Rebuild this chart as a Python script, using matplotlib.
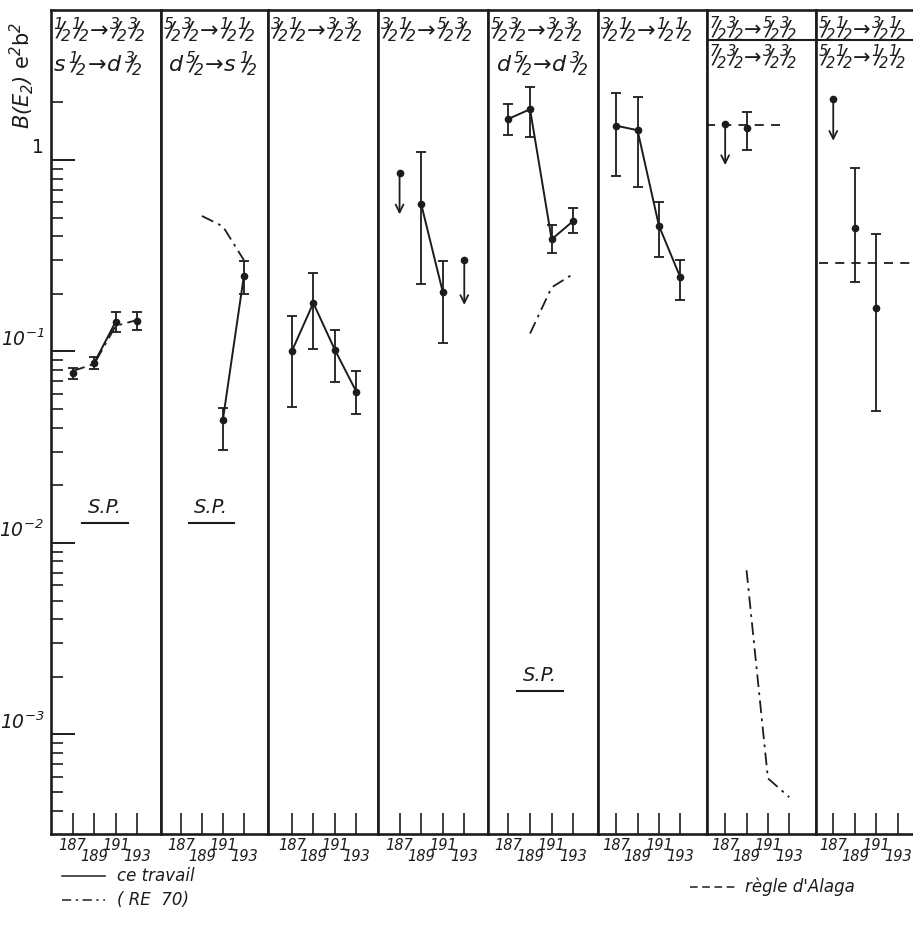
import matplotlib
matplotlib.use("Agg")
import matplotlib.pyplot as plt
from matplotlib.lines import Line2D
from matplotlib.ticker import FixedLocator, NullFormatter

plt.rcParams['font.family'] = ['DejaVu Sans']
plt.rcParams['mathtext.fontset'] = 'custom'
plt.rcParams['mathtext.rm'] = 'DejaVu Sans:italic'
plt.rcParams['mathtext.it'] = 'DejaVu Sans:italic'
plt.rcParams['mathtext.bf'] = 'DejaVu Sans:italic:bold'

# ---------------- data ----------------
mass_ticks = [187, 189, 191, 193]
mass_labels = ['187', '189', '191', '193']

header_top = ["1/2 1/2 → 3/2 3/2", "5/2 3/2 → 1/2 1/2", "3/2 1/2 → 3/2 3/2",
              "3/2 1/2 → 5/2 3/2", "5/2 3/2 → 3/2 3/2", "3/2 1/2 → 1/2 1/2",
              "7/2 3/2 → 5/2 3/2", "5/2 1/2 → 3/2 1/2"]
header_bottom = ["s 1/2 → d 3/2", "d5/2 → s 1/2", "", "", "d5/2 → d 3/2", "",
                 "7/2 3/2 → 3/2 3/2", "5/2 1/2 → 1/2 1/2"]
header_ratio = [False, False, False, False, False, False, True, True]

# experimental values (ce travail)
exp_mass = [[187, 189, 191, 193], [191, 193], [187, 189, 191, 193], [189, 191],
            [187, 189, 191, 193], [187, 189, 191, 193], [189], [189, 191]]
exp_val = [[0.077, 0.087, 0.143, 0.144], [0.044, 0.248], [0.100, 0.179, 0.102, 0.0615],
           [0.59, 0.205], [1.64, 1.84, 0.385, 0.48], [1.51, 1.43, 0.454, 0.244],
           [1.46], [0.44, 0.168]]
exp_lo = [[0.072, 0.081, 0.126, 0.129], [0.0306, 0.20], [0.051, 0.103, 0.069, 0.047],
          [0.225, 0.111], [1.35, 1.32, 0.326, 0.415], [0.82, 0.726, 0.311, 0.186],
          [1.13], [0.23, 0.049]]
exp_hi = [[0.082, 0.094, 0.161, 0.161], [0.0507, 0.298], [0.153, 0.257, 0.130, 0.079],
          [1.10, 0.297], [1.95, 2.40, 0.46, 0.56], [2.25, 2.14, 0.605, 0.30],
          [1.79], [0.91, 0.41]]
# which experimental points are joined by the solid line
exp_link = [[1, 2], [0, 1], [0, 1, 2, 3], [0, 1], [0, 1, 2, 3], [0, 1, 2, 3], [], []]

# upper limits
ul_mass = [[], [], [], [187, 193], [], [], [187], [187]]
ul_val = [[], [], [], [0.86, 0.30], [], [], [1.54], [2.07]]
ul_end = [[], [], [], [0.52, 0.175], [], [], [0.94], [1.26]]

# (RE 70) calculations
re70_mass = [[187, 189, 191, 193], [189, 191, 193], [], [], [189, 191, 193], [],
             [189, 191, 193], []]
re70_val = [[0.079, 0.086, 0.136, 0.146], [0.51, 0.45, 0.30], [], [],
            [0.124, 0.216, 0.254], [], [0.0072, 0.00059, 0.00047], []]

# Alaga rule
alaga_mass = [[], [], [], [], [], [], [185.2, 192.8], [185.7, 196.0]]
alaga_val = [None, None, None, None, None, None, 1.52, 0.289]

# single-particle labels
sp_panels = [0, 1, 4]

# y axis
y_major = [1e-3, 1e-2, 1e-1, 1.0]
y_major_labels = ['$10^{-3}$', '$10^{-2}$', '$10^{-1}$', '1']

# ---------------- layout ----------------
W, H = 913, 936
fig = plt.figure(figsize=(W / 100, H / 100), dpi=100)
fig.patch.set_facecolor('white')
INK = '#1c1c1c'

bounds = [51, 161, 268, 378, 488, 598, 707, 816, 926]
x_left = [185.0, 185.1, 184.8, 185.0, 185.1, 185.3, 185.3, 185.4]
x_span = 10.2
top_px, bot_px = 10, 834
ylim = (3.02e-4, 6.07)


def mt(s):
    out = []
    for tok in s.split():
        if tok == '→':
            out.append(r'\!\rightarrow\!')
        elif '/' in tok:
            pre = ''
            if tok[0].isalpha():
                pre, tok = tok[0] + r'\,', tok[1:]
            a, b = tok.split('/')
            out.append(pre + r'{}^{%s}\!\!/\!{}_{%s}' % (a, b))
        else:
            out.append(tok + r'\,')
    return '$' + ''.join(out) + '$'


minor = [k * d for d in (1e-4, 1e-3, 1e-2, 1e-1) for k in range(2, 10)] + [2.0]

axes = []
for i in range(8):
    l, r = bounds[i], bounds[i + 1]
    ax = fig.add_axes([l / W, 1 - bot_px / H, (r - l) / W, (bot_px - top_px) / H])
    axes.append(ax)
    ax.set_yscale('log')
    ax.set_xlim(x_left[i], x_left[i] + x_span)
    ax.set_ylim(*ylim)
    for sp in ax.spines.values():
        sp.set_linewidth(1.9)
        sp.set_color(INK)
    ax.set_xticks(mass_ticks)
    ax.set_xticklabels([])
    ax.tick_params(axis='x', direction='in', length=15, width=1.2, color=INK)
    if i == 0:
        ax.yaxis.set_major_locator(FixedLocator(y_major))
        ax.yaxis.set_minor_locator(FixedLocator(minor))
        ax.yaxis.set_major_formatter(NullFormatter())
        ax.yaxis.set_minor_formatter(NullFormatter())
        ax.tick_params(axis='y', which='major', direction='in', length=17, width=1.4, color=INK)
        ax.tick_params(axis='y', which='minor', direction='in', length=8.5, width=1.2, color=INK)
        for v, lab in zip(y_major, y_major_labels):
            ax.annotate(lab, xy=(0, v), xycoords=('axes fraction', 'data'),
                        xytext=(-5, 9), textcoords='offset points', ha='right',
                        va='center', fontsize=13.5, color=INK)
    else:
        ax.yaxis.set_major_locator(FixedLocator([]))
        ax.yaxis.set_minor_locator(FixedLocator([]))
        ax.tick_params(axis='y', which='both', left=False, labelleft=False)

    # staggered mass labels
    for j, (m, lab) in enumerate(zip(mass_ticks, mass_labels)):
        dy = -8 if j % 2 == 0 else -16.5
        ax.annotate(lab, xy=(m, 0), xycoords=('data', 'axes fraction'),
                    xytext=(0, dy), textcoords='offset points', ha='center',
                    va='center', fontsize=10.5, style='italic', color=INK,
                    annotation_clip=False)

    # headers
    if header_ratio[i]:
        fs = 15
        ax.text(0.015, 0.978, mt(header_top[i]), transform=ax.transAxes, ha='left',
                va='center', fontsize=fs, color=INK)
        ax.plot([0, 1], [0.9635, 0.9635], transform=ax.transAxes, color=INK, lw=1.5)
        ax.text(0.015, 0.943, mt(header_bottom[i]), transform=ax.transAxes,
                ha='left', va='center', fontsize=fs, color=INK)
    else:
        fs = 16
        ax.text(0.015, 0.976, mt(header_top[i]), transform=ax.transAxes, ha='left',
                va='center', fontsize=fs, color=INK)
        if header_bottom[i]:
            x0 = 0.015 if i == 0 else 0.07
            ax.text(x0, 0.935, mt(header_bottom[i]), transform=ax.transAxes,
                    ha='left', va='center', fontsize=fs, color=INK)

    # RE 70
    if re70_mass[i]:
        ax.plot(re70_mass[i], re70_val[i], color=INK, lw=1.3,
                linestyle=(0, (7, 3, 1.5, 3)))
    # Alaga
    if alaga_val[i] is not None:
        ax.plot(alaga_mass[i], [alaga_val[i]] * 2, color=INK, lw=1.3,
                linestyle=(0, (5, 4)))
    # solid connecting line
    if exp_link[i]:
        ax.plot([exp_mass[i][k] for k in exp_link[i]],
                [exp_val[i][k] for k in exp_link[i]], color=INK, lw=1.4)
    # points with error bars
    for m, v, lo, hi in zip(exp_mass[i], exp_val[i], exp_lo[i], exp_hi[i]):
        ax.errorbar([m], [v], yerr=[[v - lo], [hi - v]], fmt='o', ms=4.5,
                    color=INK, ecolor=INK, elinewidth=1.3, capsize=3.5, capthick=1.3)
    # upper limits
    for m, v, e in zip(ul_mass[i], ul_val[i], ul_end[i]):
        ax.plot([m], [v], 'o', ms=4.5, color=INK)
        ax.annotate('', xy=(m, e), xytext=(m, v),
                    arrowprops=dict(arrowstyle='->', lw=1.3, color=INK,
                                    mutation_scale=14, shrinkA=0, shrinkB=0))

# S.P. labels
sp_pos = {0: (0.49, 0.396), 1: (0.47, 0.396), 4: (0.47, 0.192)}
for i in sp_panels:
    x, y = sp_pos[i]
    axes[i].text(x, y, 'S.P.', transform=axes[i].transAxes, ha='center',
                 va='center', fontsize=14, style='italic', color=INK)
    axes[i].plot([x - 0.21, x + 0.21], [y - 0.018, y - 0.018],
                 transform=axes[i].transAxes, color=INK, lw=1.5)

# y label
fig.text(22 / W, 1 - 75 / H, r'$B(E_2)$ e$^2$b$^2$', rotation=90, ha='center',
         va='center', fontsize=15, color=INK, family='DejaVu Sans')

# legend (bottom)
fig.add_artist(Line2D([62 / W, 105 / W], [1 - 876 / H] * 2, color=INK, lw=1.1))
fig.text(117 / W, 1 - 876 / H, 'ce travail', ha='left', va='center', fontsize=12,
         style='italic', color=INK)
fig.add_artist(Line2D([62 / W, 105 / W], [1 - 900 / H] * 2, color=INK, lw=1.1,
                      linestyle=(0, (6, 3, 1.5, 3))))
fig.text(117 / W, 1 - 900 / H, '( RE  70)', ha='left', va='center', fontsize=12,
         style='italic', color=INK)
fig.add_artist(Line2D([690 / W, 735 / W], [1 - 887 / H] * 2, color=INK, lw=1.1,
                      linestyle=(0, (5, 3))))
fig.text(745 / W, 1 - 887 / H, "règle d'Alaga", ha='left', va='center', fontsize=12,
         style='italic', color=INK)

fig.savefig('out.png', dpi=100, facecolor='white')
